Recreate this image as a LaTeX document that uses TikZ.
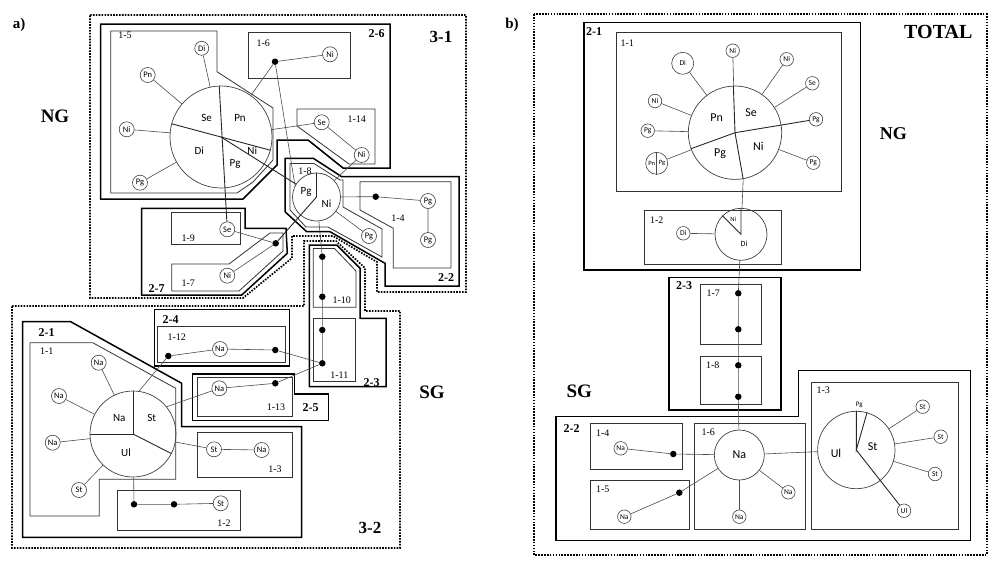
\documentclass[tikz,border=0pt]{standalone}
\usepackage{fontspec}
\setmainfont{Liberation Serif}
\setsansfont{Carlito}
\usetikzlibrary{calc, shapes, positioning}

\tikzset{
  spc/.style={circle, draw=black!75, line width=0.6pt, inner sep=0pt, minimum size=15pt, font=\sffamily\fontsize{8.5}{8.5}\selectfont},
  spr/.style={spc, minimum size=13.5pt, font=\sffamily\fontsize{7.5}{7.5}\selectfont},
  piec/.style={circle, draw=black!75, line width=0.7pt, inner sep=0pt},
  blob/.style={circle, fill=black, inner sep=0pt, minimum size=6.5pt},
  lnk/.style={draw=black!70, line width=0.6pt},
  sect/.style={draw=black!85, line width=0.9pt},
  box1/.style={draw=black!80, line width=0.8pt},
  box2/.style={draw=black, line width=1.5pt},
  box3/.style={draw=black, line width=1.7pt, dash pattern=on 1.6pt off 1.3pt},
  lab1/.style={font=\fontsize{10}{10}\selectfont},
  lab2/.style={font=\bfseries\fontsize{12}{12}\selectfont},
  lab3/.style={font=\bfseries\fontsize{19}{19}\selectfont},
  plab/.style={font=\sffamily\fontsize{11}{11}\selectfont},
  tlab/.style={font=\sffamily\fontsize{6.5}{6.5}\selectfont, inner sep=0pt}
}

\begin{document}
\begin{tikzpicture}[x=1pt, y=-1pt]
\useasboundingbox (0,0) rectangle (999,584);

% ---------- a) regions
\draw[box3] (90,15) -- (466,15) -- (466,292) -- (377,292) -- (377,262) -- (333,236) -- (292,236) -- (292,258) -- (243,298) -- (90,298) -- cycle;
\draw[box3] (12,306) -- (304,306) -- (304,241) -- (336,241) -- (365,268) -- (365,311) -- (400,311) -- (400,548) -- (12,548) -- cycle;
% groups
\draw[box2] (100.7,24) -- (390,24) -- (390,168) -- (343,168) -- (308,140) -- (277,140) -- (277,165) -- (243,199) -- (100.7,199) -- cycle;
\draw[box2] (141.7,208.3) -- (245,208.3) -- (245,228.3) -- (286,228.3) -- (287.3,253.3) -- (241.7,295) -- (141.7,295) -- cycle;
\draw[box2] (285,158.3) -- (313.3,158.3) -- (341.7,176.7) -- (459,176.7) -- (459,286) -- (385,286) -- (385,263.3) -- (330,231.7) -- (306.7,231.7) -- (285,211.7) -- cycle;
\draw[box2] (309.3,245) -- (336.7,245) -- (360,268.3) -- (360,318.3) -- (386,318.3) -- (386,386.7) -- (309.3,386.7) -- cycle;
\draw[box2] (154.3,309.3) rectangle (289.3,366);
\draw[box2] (192.7,374) -- (294.3,374) -- (294.3,394) -- (328.3,394) -- (328.3,420.7) -- (192.7,420.7) -- cycle;
\draw[box2] (22.7,321.7) -- (70.7,321.7) -- (181.7,383.3) -- (181.7,426.7) -- (301.7,426.7) -- (301.7,537.3) -- (22.7,537.3) -- cycle;
% clusters
\draw[box1] (110.7,31) -- (217,31) -- (217,71.7) -- (273,108) -- (273,160) -- (253,182) -- (237,193) -- (110.7,193) -- cycle;
\draw[box1] (248.3,32.7) rectangle (350,78.3);
\draw[box1] (297,109) -- (375,109) -- (375,164) -- (349,164) -- (297,126) -- cycle;
\draw[box1] (171.7,212.7) rectangle (240,244);
\draw[box1] (171.7,264) -- (229,264) -- (270,233) -- (283,233) -- (283,251) -- (239,291) -- (171.7,291) -- cycle;
\draw[box1] (290,163.5) -- (314,163.5) -- (340,180) -- (343,180) -- (343,207) -- (382,229) -- (382,257) -- (328,227) -- (306,227) -- (290,210) -- cycle;
\draw[box1] (360,181.7) -- (451,181.7) -- (451,268) -- (393.3,268) -- (393.3,228.3) -- (360,210) -- cycle;
\draw[box1] (313.3,248.5) -- (334.5,248.5) -- (356,271) -- (356,307.3) -- (313.3,307.3) -- cycle;
\draw[box1] (313.3,318.3) rectangle (355,381.7);
\draw[box1] (157.7,326.7) rectangle (285.3,362.7);
\draw[box1] (197.3,377.3) rectangle (292.3,416.7);
\draw[box1] (30,342.7) -- (92.7,342.7) -- (175.7,388.3) -- (175.7,479.3) -- (99.3,479.3) -- (99.3,516) -- (30,516) -- cycle;
\draw[box1] (197.3,432.7) rectangle (292.3,477.3);
\draw[box1] (117.3,490) rectangle (240,530);

% ---------- a) nodes
\node[piec, minimum size=102pt] (p5) at (221,137) {};
\node[plab] (l5a) at (206.7,118.3) {Se};
\node[plab] (l5b) at (240,118.3) {Pn};
\node[plab] (l5c) at (199.3,151) {Di};
\node[plab] (l5d) at (252.3,151) {Ni};
\node[plab] (l5e) at (235,164) {Pg};
\node[spc, minimum size=14pt] (di5) at (201.7,48.3) {Di};
\node[spc] (pn5) at (147.7,75) {Pn};
\node[spc] (ni5) at (126.7,129.3) {Ni};
\node[spc] (pg5) at (140,182.7) {Pg};
\node[blob] (d6) at (275,61.7) {};
\node[spc] (ni6) at (330,54.3) {Ni};
\node[spc] (se14) at (321.7,122.3) {Se};
\node[spc] (ni14) at (361.7,155) {Ni};
\node[piec, minimum size=48pt] (p8) at (316.5,197) {};
\node[plab] (l8a) at (306,191.5) {Pg};
\node[plab] (l8b) at (326.5,204) {Ni};
\node[spc] (pg8) at (369,236) {Pg};
\node[blob] (d4) at (375.7,196.7) {};
\node[spc] (pg4a) at (428,201) {Pg};
\node[spc] (pg4b) at (428,240) {Pg};
\node[spc] (se9) at (227.3,229.3) {Se};
\node[blob] (d7) at (275.7,243.3) {};
\node[spc] (ni7) at (227.3,275.7) {Ni};
\foreach \n/\y in {d10a/256.7, d10b/296.7, d11a/330, d11b/363.3}
  \node[blob] (\n) at (322.3,\y) {};
\node[blob] (d12a) at (168.3,356) {};
\node[spc] (na12) at (220,349) {Na};
\node[blob] (d12b) at (275.3,350) {};
\node[spc] (na13) at (219.3,388.3) {Na};
\node[blob] (d13) at (275.3,383.3) {};
\node[piec, minimum size=86pt] (p1) at (133,434) {};
\node[plab] (l1a) at (119.3,418.3) {Na};
\node[plab] (l1b) at (151.7,418.3) {St};
\node[plab] (l1c) at (126,452.7) {Ul};
\node[spc] (na1a) at (98.7,362.7) {Na};
\node[spc] (na1b) at (59,396) {Na};
\node[spc] (na1c) at (52.7,442.7) {Na};
\node[spc] (st1) at (79,490) {St};
\node[spc] (st3) at (214,449.3) {St};
\node[spc] (na3) at (261.7,450) {Na};
\node[blob] (d2a) at (134,504.3) {};
\node[blob] (d2b) at (174,504.3) {};
\node[spc] (st2) at (220.7,503.3) {St};

% ---------- a) links
\draw[sect] (p5.92) -- (se9);
\draw[sect] (p5.165) -- (p5.-15);
\draw[sect] (p5.center) -- (p8);
\foreach \n in {di5,pn5,ni5,pg5} \draw[lnk] (\n) -- (p5);
\draw[lnk] (p5) -- (d6) -- (ni6);
\draw[lnk] (d6) -- (p8.152);
\draw[lnk] (p5) -- (se14) -- (ni14) -- (p8);
\draw[sect] (p8.90) -- (p8.center) -- (d7);
\draw[lnk] (p8) -- (pg8);
\draw[lnk] (p8) -- (d4) -- (pg4a) -- (pg4b);
\draw[lnk] (se9) -- (d7) -- (ni7);
\draw[lnk] (p8) -- (d10a) -- (d10b) -- (d11a) -- (d11b);
\draw[lnk] (d12a) -- (na12) -- (d12b) -- (d11b);
\draw[lnk] (na13) -- (d13) -- (d11b);
\draw[sect] (p1.90) -- (p1.center) -- (p1.180);
\draw[sect] (p1.center) -- (p1.-27);
\foreach \n in {na1a,na1b,na1c,st1} \draw[lnk] (\n) -- (p1);
\draw[lnk] (p1) -- (st3) -- (na3);
\draw[lnk] (p1) -- (d2a) -- (d2b) -- (st2);
\draw[lnk] (p1.82) -- (d12a);
\draw[lnk] (p1.39) -- (na13);

% ---------- b) boxes
\draw[box3] (534,14) rectangle (986.7,555);
\draw[box2] (584,22.7) rectangle (860.7,270);
\draw[box1] (616.7,32.7) rectangle (841,191.7);
\draw[box1] (644.3,210) rectangle (781,264.3);
\draw[box2] (669,277.3) rectangle (781,410);
\draw[box1] (700.7,284) rectangle (761,344);
\draw[box1] (700.7,356) rectangle (761,404.3);
\draw[box2] (556,416.7) -- (798.3,416.7) -- (798.3,370.7) -- (970.7,370.7) -- (970.7,540.7) -- (556,540.7) -- cycle;
\draw[box1] (590,423.3) rectangle (682.7,469);
\draw[box1] (590,480.7) rectangle (689.3,529.3);
\draw[box1] (694.3,423.3) rectangle (805,529.3);
\draw[box1] (811.7,382.7) rectangle (958.7,529.3);

% ---------- b) nodes
\node[piec, minimum size=93.4pt] (q1) at (735,132.7) {};
\node[plab, font=\sffamily\fontsize{12}{12}\selectfont] (m1a) at (716.7,117.3) {Pn};
\node[plab, font=\sffamily\fontsize{12}{12}\selectfont] (m1b) at (751,112.7) {Se};
\node[plab, font=\sffamily\fontsize{12}{12}\selectfont] (m1c) at (720,153.3) {Pg};
\node[plab, font=\sffamily\fontsize{12}{12}\selectfont] (m1d) at (758.3,146.7) {Ni};
\node[spr, minimum size=22pt] (di1) at (682.7,63.3) {Di};
\node[spr] (ni1a) at (732.7,50.7) {Ni};
\node[spr] (ni1b) at (786.7,59.3) {Ni};
\node[spr] (se1) at (812.3,83.3) {Se};
\node[spr] (pg1b) at (816,119.3) {Pg};
\node[spr] (pg1c) at (813.3,162.7) {Pg};
\node[spr] (ni1c) at (655,101) {Ni};
\node[spr] (pg1a) at (647.7,130.7) {Pg};
\node[spr, minimum size=22pt] (pnpg) at (656.7,163.3) {};
\node[tlab] (m1e) at (651.7,163.3) {Pn};
\node[tlab] (m1f) at (662,163.3) {Pg};
\node[piec, minimum size=52pt] (q2) at (741,234.3) {};
\node[tlab] (m2a) at (733.3,219.3) {Ni};
\node[plab, font=\sffamily\fontsize{8}{8}\selectfont] (m2b) at (744,243.3) {Di};
\node[spr] (di2) at (683.3,233.3) {Di};
\foreach \n/\y in {e7a/293.3, e7b/329.3, e8a/365.3, e8b/396.7}
  \node[blob] (\n) at (738.3,\y) {};
\node[piec, minimum size=50pt, font=\sffamily\fontsize{12}{12}\selectfont] (q6) at (739.3,455) {Na};
\node[spr] (na6a) at (739.3,516.7) {Na};
\node[spr] (na6b) at (788.3,492.3) {Na};
\node[spr] (na4) at (620.7,448.3) {Na};
\node[blob] (f4) at (673.3,454) {};
\node[spr] (na5) at (624.3,516.7) {Na};
\node[blob] (f5) at (679.3,492.7) {};
\node[piec, minimum size=77.4pt] (q3) at (856.3,450) {};
\node[tlab, font=\sffamily\fontsize{7}{7}\selectfont] (m3a) at (859.3,405) {Pg};
\node[plab, font=\sffamily\fontsize{12}{12}\selectfont] (m3b) at (836,453.3) {Ul};
\node[plab, font=\sffamily\fontsize{12}{12}\selectfont] (m3c) at (872.7,446.7) {St};
\node[spr] (st3a) at (922.7,406.7) {St};
\node[spr] (st3b) at (940.7,436.7) {St};
\node[spr] (st3c) at (935,474) {St};
\node[spr] (ul3) at (904,510.7) {Ul};

% ---------- b) links
\draw[sect] (q1.92) -- (q1.center);
\draw[sect] (q1.200) -- (q1.center) -- (pg1b);
\draw[sect] (q1.center) -- (q1.-80);
\draw[lnk] (q1.-80) -- (q2);
\foreach \n in {di1,ni1a,ni1b,se1,pg1c,ni1c,pg1a,pnpg} \draw[lnk] (\n) -- (q1);
\draw[lnk] (pnpg.north) -- (pnpg.south);
\draw[sect] (q2.90) -- (q2.center) -- (q2.135);
\draw[lnk] (di2) -- (q2);
\draw[lnk] (q2) -- (e7a) -- (e7b) -- (e8a) -- (e8b) -- (q6);
\draw[lnk] (na4) -- (f4) -- (q6);
\draw[lnk] (na5) -- (f5) -- (q6);
\draw[lnk] (q6) -- (na6a);
\draw[lnk] (q6) -- (na6b);
\draw[lnk] (q6) -- (q3);
\draw[sect] (q3.90) -- (q3.center) -- (q3.74);
\draw[sect] (q3.center) -- (ul3);
\foreach \n in {st3a,st3b,st3c} \draw[lnk] (\n) -- (q3);

% ---------- labels
\foreach \t/\x/\y [count=\k] in {1-5/125/35, 1-6/263.3/43.3, 1-14/356.7/119.3, 1-8/305/171,
    1-4/398/218.3, 1-9/188.3/238.3, 1-7/188.3/282.7, 1-10/341.7/300.7, 1-11/339.3/375,
    1-12/176.7/336.7, 1-13/276/407.3, 1-1/46.7/350.7, 1-3/275/469.3, 1-2/224/522.7,
    1-1/627.3/43.3, 1-2/656.7/220, 1-7/713.3/292.7, 1-8/712.7/365, 1-4/602.7/432.7,
    1-5/602.7/489.3, 1-6/708.3/432.7, 1-3/823.3/390.7}
  \node[lab1] (ta\k) at (\x,\y) {\t};
\foreach \t/\x/\y [count=\k] in {2-6/376.7/33.3, 2-2/446/277.5, 2-7/156.7/288.3, 2-3/371.7/382.7,
    2-4/170.7/319.3, 2-5/310.7/407.3, 2-1/46.7/332.7, 2-1/594/31.7, 2-3/684/286, 2-2/571.7/428.3}
  \node[lab2] (tb\k) at (\x,\y) {\t};
\node[lab3] (tng) at (55,116.7) {NG};
\node[lab3] (tsg) at (432,392) {SG};
\node[lab3, font=\bfseries\fontsize{17}{17}\selectfont] (t31) at (441,37) {3-1};
\node[lab3, font=\bfseries\fontsize{17}{17}\selectfont] (t32) at (370,528.3) {3-2};
\node[lab3, font=\bfseries\fontsize{18}{18}\selectfont] (tng2) at (893.3,133.3) {NG};
\node[lab3] (tsg2) at (579.3,391.7) {SG};
\node[lab3, font=\bfseries\fontsize{20}{20}\selectfont] (ttot) at (938.3,31.7) {TOTAL};
\node[lab2, font=\bfseries\fontsize{15}{15}\selectfont] (tpa) at (19,25) {a)};
\node[lab2, font=\bfseries\fontsize{15}{15}\selectfont] (tpb) at (512,25) {b)};
\end{tikzpicture}
\end{document}
